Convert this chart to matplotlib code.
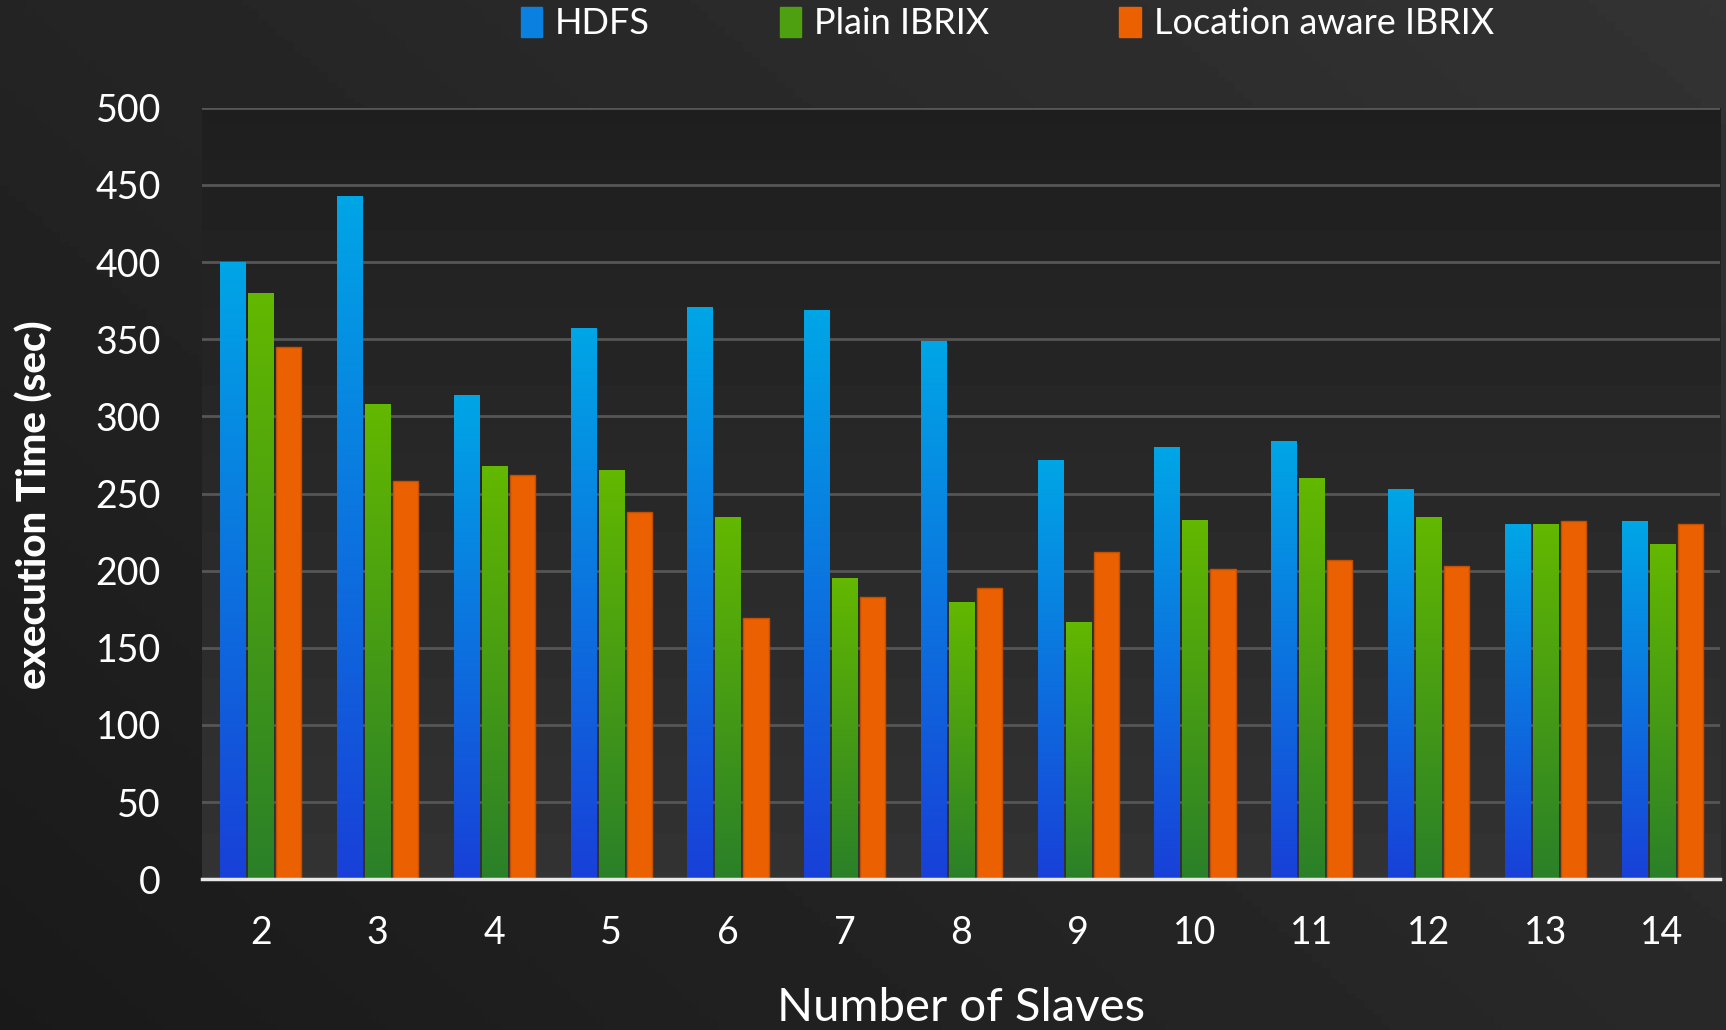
from matplotlib import pyplot as plt
from matplotlib.patches import Patch
import numpy as np

slaves = [2, 3, 4, 5, 6, 7, 8, 9, 10, 11, 12, 13, 14]
hdfs = [400, 443, 314, 357, 371, 369, 349, 272, 280, 284, 253, 230, 232]
plain_ibrix = [380, 308, 268, 265, 235, 195, 180, 167, 233, 260, 235, 230, 217]
loc_ibrix = [345, 258, 262, 238, 169, 183, 189, 212, 201, 207, 203, 232, 230]

labels = ["HDFS", "Plain IBRIX", "Location aware IBRIX"]

plt.rcParams['font.family'] = ['Lato', 'DejaVu Sans']

fig = plt.figure(figsize=(17.26, 10.30), dpi=100)

# background gradient over the whole figure
bg = fig.add_axes([0, 0, 1, 1], zorder=-10)
xx, yy = np.meshgrid(np.linspace(0, 1, 200), np.linspace(0, 1, 200))
shade = 0.10 + 0.10 * (0.6 * xx + 0.4 * yy)
bg.imshow(shade, cmap='gray', vmin=0, vmax=1, extent=[0, 1, 0, 1],
          aspect='auto', origin='lower')
bg.axis('off')

ax = fig.add_axes([0.1173, 0.1464, 0.8795, 0.7489])
ax.set_facecolor('none')
# vertical gradient behind the bars
grad = np.linspace(0.20, 0.12, 100).reshape(-1, 1)
ax.imshow(grad, cmap='gray', vmin=0, vmax=1, extent=[1.5, 14.5, 0, 500],
          aspect='auto', origin='lower', zorder=0)

x = np.array(slaves)
width = 0.215
step = 0.24


def gradient_bars(vals, offset, top, bottom):
    bars = ax.bar(x + offset, vals, width, color='none', zorder=3)
    cm = np.linspace(0, 1, 256).reshape(-1, 1, 1)
    img = (1 - cm) * np.array(bottom) / 255 + cm * np.array(top) / 255
    for b in bars:
        x0, w, h = b.get_x(), b.get_width(), b.get_height()
        im = ax.imshow(img, extent=[x0, x0 + w, 0, h], aspect='auto',
                       origin='lower', zorder=3)
        im.set_clip_path(b)
    return bars


gradient_bars(hdfs, -step, (0, 166, 230), (24, 64, 216))
gradient_bars(plain_ibrix, 0, (99, 184, 0), (42, 128, 40))
ax.bar(x + step, loc_ibrix, width, color='#eb6000', edgecolor='#c44f00',
       linewidth=1, zorder=3)

ax.set_xlim(1.5, 14.5)
ax.set_ylim(0, 500)
ax.set_yticks(np.arange(0, 501, 50))
ax.set_xticks(x)
ax.set_xticklabels([str(s) for s in slaves])
ax.yaxis.grid(True, color='#565656', linewidth=2, zorder=1)
ax.set_axisbelow(True)
for s in ['top', 'right', 'left']:
    ax.spines[s].set_visible(False)
ax.spines['bottom'].set_color('#e8e8e8')
ax.spines['bottom'].set_linewidth(2.5)
ax.spines['bottom'].set_zorder(5)
ax.tick_params(axis='both', length=0, colors='white', labelsize=27)
ax.tick_params(axis='y', pad=30)
ax.tick_params(axis='x', pad=26)

ax.set_xlabel("Number of Slaves", color='white', fontsize=34, labelpad=26)
fig.text(0.02, 0.51, "execution Time (sec)", color='white', fontsize=29,
         fontweight='black', rotation=90, ha='center', va='center')

handles = [Patch(color='#0a80e0'), Patch(color='#4ea010'), Patch(color='#eb6000')]
fig.legend(handles, labels, loc='center', bbox_to_anchor=(0.5836, 0.977),
           ncol=3, frameon=False, labelcolor='white',
           handlelength=0.6, handleheight=0.9, handletextpad=0.35,
           columnspacing=3.6, prop={'size': 26})

fig.savefig("out.png", dpi=100)
